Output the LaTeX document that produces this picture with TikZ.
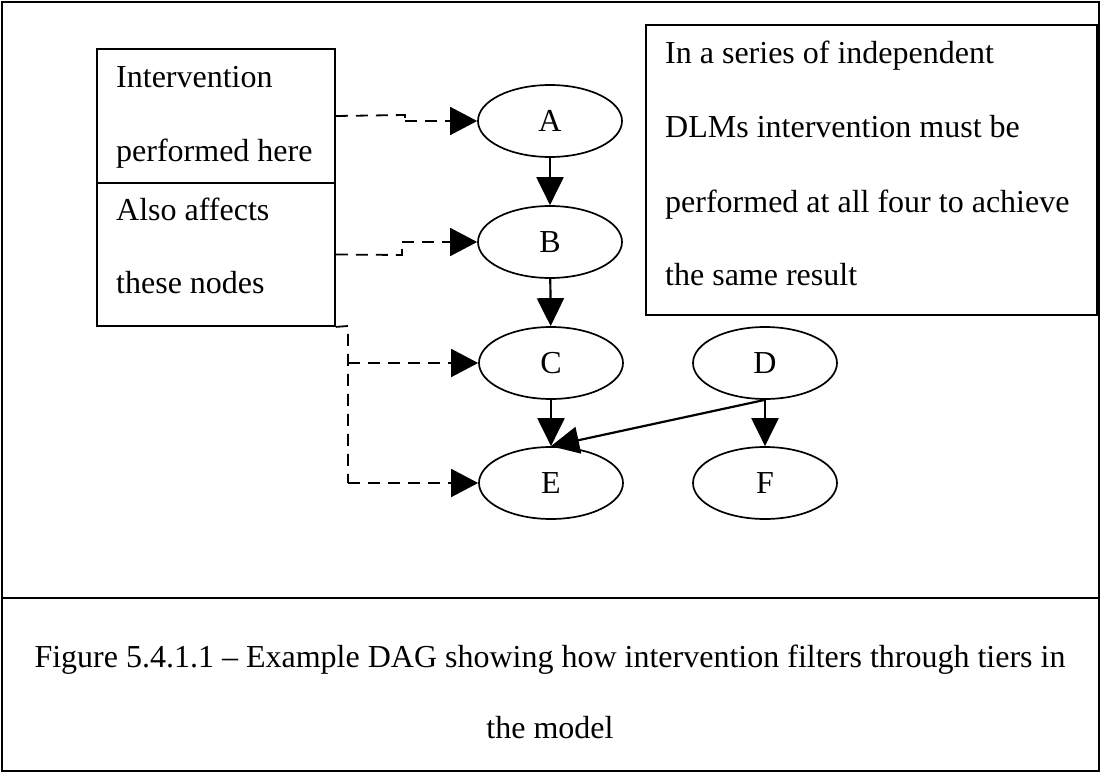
\documentclass[tikz,border=0pt]{standalone}
\usepackage{fontspec}
\setmainfont{Liberation Serif}
\usetikzlibrary{arrows.meta,shapes.geometric}
\begin{document}
\begin{tikzpicture}[x=1pt,y=-1pt,
  frame/.style={draw,line width=1.8pt},
  txt/.style={font=\fontsize{32}{38}\selectfont},
  label/.style={txt,anchor=base west,inner sep=0pt},
  dagnode/.style={txt,draw,ellipse,line width=1.7pt,minimum width=144pt,minimum height=72pt,inner sep=0pt},
  edge/.style={line width=2.2pt,-{Triangle[length=28pt,width=27pt]}},
  linkplain/.style={line width=1.8pt,dash pattern=on 12pt off 8pt},
  link/.style={linkplain,-{Triangle[length=27pt,width=28pt]}}]
\useasboundingbox (0,0) rectangle (1101,773);
% outer frame and caption divider
\draw[frame] (2,2) rectangle (1099,771);
\draw[frame] (2,598) -- (1099,598);

% left annotation box
\node[frame,minimum width=238pt,minimum height=134pt,inner sep=0pt] (top) at (216,116) {};
\node[frame,minimum width=238pt,minimum height=143pt,inner sep=0pt] (bot) at (216,254.5) {};
\node[label] (t1) at (116,88) {Intervention};
\node[label] (t2) at (116,161) {performed here};
\node[label] (t3) at (116,221) {Also affects};
\node[label] (t4) at (116,293) {these nodes};

% right note box
\node[frame,minimum width=451pt,minimum height=290pt,inner sep=0pt] (note) at (871.5,170) {};
\node[label] (n1) at (665,64) {In a series of independent};
\node[label] (n2) at (665,138) {DLMs intervention must be};
\node[label] (n3) at (665,212) {performed at all four to achieve};
\node[label] (n4) at (665,285) {the same result};

% DAG nodes
\node[dagnode] (A) at (550,121) {A};
\node[dagnode] (B) at (550,242) {B};
\node[dagnode] (C) at (551,363) {C};
\node[dagnode] (D) at (765,363) {D};
\node[dagnode] (E) at (551,483) {E};
\node[dagnode] (F) at (765,483) {F};

% DAG edges
\draw[edge] (A) -- (B);
\draw[edge] (B) -- (C);
\draw[edge] (C) -- (E);
\draw[edge] (D) -- (F);
\draw[edge] (D.south) -- (E.north);

% intervention links
\coordinate (ja1) at (405,115);
\coordinate (ja2) at (405,121);
\coordinate (jb1) at (402,255);
\coordinate (jb2) at (402,242);
\coordinate (jc0) at (348,326);
\coordinate (jc) at (348,363);
\coordinate (je) at (348,483);
\draw[linkplain] (top.east) -- (ja1) -- (ja2);
\draw[link] (ja2) -- (A.west);
\draw[linkplain] (bot.east) -- (jb1) -- (jb2);
\draw[link] (jb2) -- (B.west);
\draw[linkplain] (bot.south east) -- (jc0) -- (je);
\draw[link] (jc) -- (C.west);
\draw[link] (je) -- (E.west);

% caption
\node[txt,inner sep=0pt,anchor=base] (cap1) at (550,667) {Figure 5.4.1.1 – Example DAG showing how intervention filters through tiers in};
\node[txt,inner sep=0pt,anchor=base] (cap2) at (550,738) {the model};
\end{tikzpicture}
\end{document}
